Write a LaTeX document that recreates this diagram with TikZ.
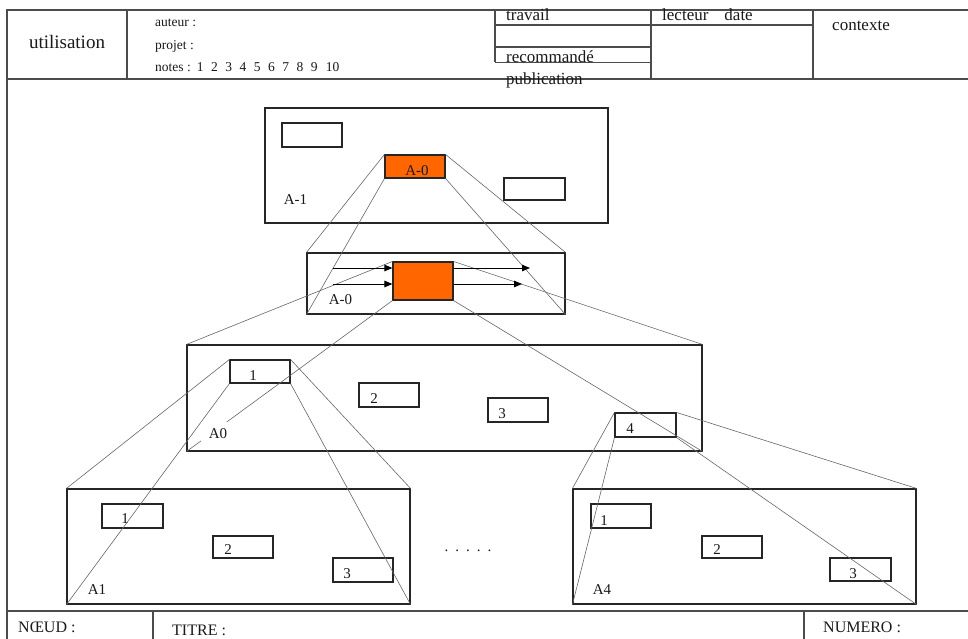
\documentclass[tikz,border=0pt]{standalone}
\usepackage{fontspec}
\setmainfont{Liberation Serif}
\usetikzlibrary{calc,arrows.meta}
\definecolor{orng}{HTML}{FF6600}
\begin{document}
\begin{tikzpicture}[x=1pt,y=-1pt,
  frame/.style={line width=1.1pt, draw=black!70},
  box/.style={draw=black!85, line width=1.1pt, rectangle, inner sep=0pt},
  obox/.style={box, fill=orng},
  proj/.style={draw=black!60, line width=0.6pt},
  arr/.style={draw=black, line width=1pt, -{Triangle[length=8pt,width=6.5pt]}},
  lab/.style={font=\fontsize{15}{18}\selectfont, inner sep=0pt, text=black!90},
  hd/.style={font=\fontsize{17}{20}\selectfont, inner sep=0pt, anchor=base west, text=black!90},
  sm/.style={font=\fontsize{13.5}{15}\selectfont, inner sep=0pt, anchor=base west, text=black!90},
  ft/.style={font=\fontsize{16}{19}\selectfont, inner sep=0pt, anchor=base west, text=black!90}
]
\useasboundingbox (0,0) rectangle (968,639);

% ---------- header and footer frame ----------
\draw[frame] (7,646) -- (7,10) -- (975,10);
\draw[frame] (7,79) -- (975,79);
\draw[frame] (7,611) -- (975,611);
\draw[frame] (127,10) -- (127,79);
\draw[frame] (495,10) -- (495,62.5);
\draw[frame] (651,10) -- (651,79);
\draw[frame] (813,10) -- (813,79);
\draw[frame] (495,25) -- (813,25);
\draw[frame] (495,47) -- (651,47);
\draw[frame] (495,62.5) -- (651,62.5);
\draw[frame] (153,611) -- (153,646);
\draw[frame] (804,611) -- (804,646);

\node[font=\fontsize{19}{22}\selectfont, inner sep=0pt, anchor=base, text=black!90] (util) at (67,49) {utilisation};
\node[sm] (aut) at (155,27) {auteur :};
\node[sm] (proj) at (155,50) {projet :};
\node[sm] (notes) at (155,72) {notes :\hspace{6pt}1\hspace{7.5pt}2\hspace{7.5pt}3\hspace{7.5pt}4\hspace{7.5pt}5\hspace{7.5pt}6\hspace{7.5pt}7\hspace{7.5pt}8\hspace{7.5pt}9\hspace{8.3pt}10};
\node[hd] (trav) at (506,21) {travail};
\node[hd] (lect) at (662,21) {lecteur\hspace{16pt}date};
\node[hd] (ctx) at (832,31) {contexte};
\node[hd] (reco) at (506,63) {recommandé};
\node[hd] (pub) at (506,85) {publication};
\node[ft] (noeud) at (18,632) {NŒUD :};
\node[ft] (titre) at (172,635) {TITRE :};
\node[ft] (num) at (823,632) {NUMERO :};

% ---------- boxes ----------
\node[box, minimum width=343pt, minimum height=115pt] (Am1) at (436.5,165.5) {};
\node[box, minimum width=60pt, minimum height=24pt] (s1) at (312,135) {};
\node[obox, minimum width=60pt, minimum height=23pt] (ob1) at (415,166.5) {};
\node[box, minimum width=61pt, minimum height=22pt] (s2) at (534.5,189) {};

\node[box, minimum width=258pt, minimum height=61pt] (Am0) at (436,283.5) {};
\node[obox, minimum width=60pt, minimum height=38pt] (ob2) at (423,281) {};

\node[box, minimum width=515pt, minimum height=106pt] (A0) at (444.5,398) {};
\node[box, minimum width=60pt, minimum height=23pt] (b1) at (260,371.5) {};
\node[box, minimum width=60pt, minimum height=24pt] (b2) at (389,395) {};
\node[box, minimum width=60pt, minimum height=24pt] (b3) at (518,410) {};
\node[box, minimum width=61pt, minimum height=24pt] (b4) at (645.5,425) {};

\node[box, minimum width=343pt, minimum height=115pt] (A1) at (238.5,546.5) {};
\node[box, minimum width=61pt, minimum height=24pt] (c1) at (132.5,516) {};
\node[box, minimum width=60pt, minimum height=22pt] (c2) at (243,547) {};
\node[box, minimum width=60pt, minimum height=24pt] (c3) at (363,570) {};

\node[box, minimum width=343pt, minimum height=115pt] (A4) at (744.5,546.5) {};
\node[box, minimum width=60pt, minimum height=24pt] (d1) at (621,516) {};
\node[box, minimum width=60pt, minimum height=22pt] (d2) at (732,547) {};
\node[box, minimum width=61pt, minimum height=23pt] (d3) at (860.5,569.5) {};

% ---------- projection lines ----------
\draw[proj] (ob1.north west) -- (Am0.north west);
\draw[proj] (ob1.south west) -- (Am0.south west);
\draw[proj] (ob1.north east) -- (Am0.north east);
\draw[proj] (ob1.south east) -- (Am0.south east);

\draw[proj] (ob2.north west) -- (A0.north west);
\draw[proj] (ob2.south west) -- (A0.south west);
\draw[proj] (ob2.north east) -- (A0.north east);
\draw[proj] (ob2.south east) -- (A0.south east);

\draw[proj] (b1.north west) -- (A1.north west);
\draw[proj] (b1.south west) -- (A1.south west);
\draw[proj] (b1.north east) -- (A1.north east);
\draw[proj] (b1.south east) -- (A1.south east);

\draw[proj] (b4.north west) -- (A4.north west);
\draw[proj] (b4.south west) -- (A4.south west);
\draw[proj] (b4.north east) -- (A4.north east);
\draw[proj] (b4.south east) -- (A4.south east);

% ---------- arrows in A-0 ----------
\coordinate (i1) at (333,268);
\coordinate (i2) at (333,284);
\coordinate (o1) at (530,268);
\coordinate (o2) at (522,284);
\draw[arr] (i1) -- (ob2.west |- i1);
\draw[arr] (i2) -- (ob2.west |- i2);
\draw[arr] (ob2.east |- o1) -- (o1);
\draw[arr] (ob2.east |- o2) -- (o2);

% ---------- labels ----------
\node[lab] (lob1) at (417,171) {A-0};
\node[lab] (lAm1) at (295.5,200) {A-1};
\node[lab] (lAm0) at (340.5,300) {A-0};
\node[lab, fill=white, minimum width=34pt, minimum height=24pt] (lA0) at (218,434) {A0};
\node[lab] (lb1) at (253,376) {1};
\node[lab] (lb2) at (374,399) {2};
\node[lab] (lb3) at (502,413.5) {3};
\node[lab] (lb4) at (630,429) {4};
\node[lab] (lA1) at (97,590) {A1};
\node[lab] (lc1) at (125,519) {1};
\node[lab] (lc2) at (228,550) {2};
\node[lab] (lc3) at (347,574) {3};
\node[lab] (lA4) at (602,590) {A4};
\node[lab] (ld1) at (604,521) {1};
\node[lab] (ld2) at (717,550) {2};
\node[lab] (ld3) at (853,574) {3};
\node[lab, anchor=base] (dots) at (468,551) {.\hspace{7pt}.\hspace{7pt}.\hspace{7pt}.\hspace{7pt}.};
\end{tikzpicture}
\end{document}
